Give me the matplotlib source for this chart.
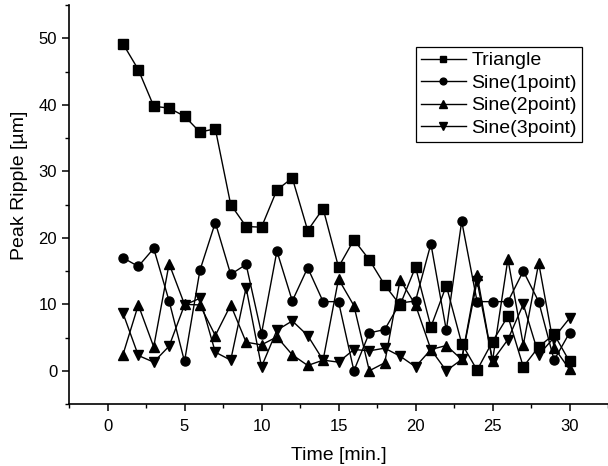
import numpy as np
import matplotlib.pyplot as plt
from matplotlib.ticker import MultipleLocator

plt.rcParams['font.family'] = ['Liberation Sans', 'DejaVu Sans']

# Dữ liệu
time_min = [1, 2, 3, 4, 5, 6, 7, 8, 9, 10, 11, 12, 13, 14, 15,
            16, 17, 18, 19, 20, 21, 22, 23, 24, 25, 26, 27, 28, 29, 30]
triangle = [49.2, 45.3, 39.8, 39.5, 38.3, 35.9, 36.4, 25.0, 21.7, 21.6,
            27.2, 29.0, 21.1, 24.4, 15.6, 19.7, 16.7, 12.9, 9.9, 15.6,
            6.6, 12.8, 4.1, 0.1, 4.4, 8.2, 0.6, 3.6, 5.5, 1.4]
sine1 = [17.0, 15.7, 18.4, 10.5, 1.4, 15.1, 22.3, 14.5, 16.0, 5.6,
         18.0, 10.5, 15.5, 10.4, 10.4, 0.0, 5.7, 6.2, 10.2, 10.5,
         19.1, 6.1, 22.5, 10.4, 10.4, 10.4, 15.0, 10.4, 1.6, 5.7]
sine2 = [2.4, 9.9, 3.6, 16.1, 10.0, 9.9, 5.3, 9.9, 4.3, 3.9,
         5.1, 2.4, 0.8, 1.6, 13.8, 9.8, 0.0, 1.2, 13.7, 9.9,
         3.2, 3.8, 1.7, 14.4, 1.5, 16.8, 3.9, 16.2, 3.5, 0.2]
sine3 = [8.7, 2.3, 1.3, 3.7, 9.9, 10.9, 2.8, 1.6, 12.5, 0.6,
         6.1, 7.5, 5.3, 1.6, 1.3, 3.2, 3.0, 3.4, 2.2, 0.6,
         3.2, 0.0, 1.7, 13.5, 1.5, 4.7, 10.0, 2.4, 5.0, 7.9]

labels = ['Triangle', 'Sine(1point)', 'Sine(2point)', 'Sine(3point)']
markers = ['s', 'o', '^', 'v']
msizes = [6.5, 6.5, 7.2, 7.2]

fig = plt.figure(figsize=(6.08, 4.66), dpi=100)
ax = fig.add_axes([0.1135, 0.133, 0.8865, 0.856])

series = [triangle, sine1, sine2, sine3]
for i, ys in enumerate(series):
    ax.plot(time_min, ys, color='black', linewidth=1.0,
            marker=markers[i], markersize=msizes[i], label=labels[i])

ax.set_xlim(-2.5, 32.5)
ax.set_ylim(-5, 55)
ax.xaxis.set_major_locator(MultipleLocator(5))
ax.xaxis.set_minor_locator(MultipleLocator(2.5))
ax.yaxis.set_major_locator(MultipleLocator(10))
ax.yaxis.set_minor_locator(MultipleLocator(5))

ax.spines['top'].set_visible(False)
ax.spines['right'].set_visible(False)
ax.spines['left'].set_linewidth(1.2)
ax.spines['bottom'].set_linewidth(1.2)
ax.tick_params(which='major', direction='out', length=5, width=1.1, labelsize=12)
ax.tick_params(which='minor', direction='out', length=3, width=1.0)
ax.tick_params(axis='x', which='major', pad=6)

ax.set_xlabel('Time [min.]', fontsize=14, labelpad=9)
ax.set_ylabel('Peak Ripple [µm]', fontsize=14)
ax.yaxis.set_label_coords(-0.076, 0.549)

leg = ax.legend(loc='upper left', bbox_to_anchor=(0.644, 0.895), fontsize=14,
                frameon=True, fancybox=False, edgecolor='black', framealpha=1,
                handlelength=2.3, handletextpad=0.3, labelspacing=0.25,
                borderpad=0.25, borderaxespad=0, markerscale=0.75)
leg.get_frame().set_linewidth(0.9)

fig.savefig('out.png', dpi=100, facecolor='white')
plt.close()
